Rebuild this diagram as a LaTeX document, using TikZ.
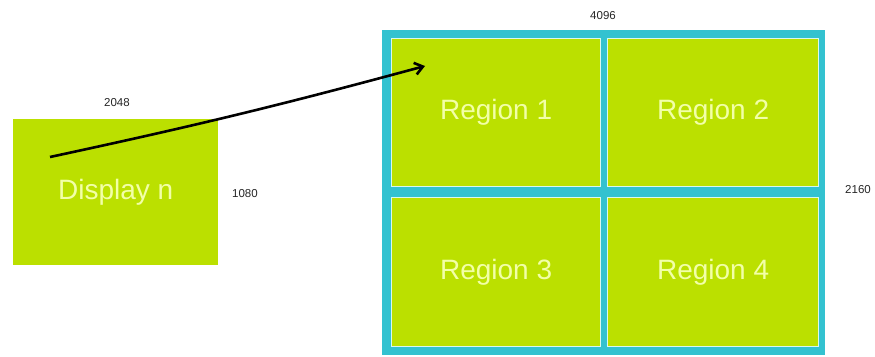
\documentclass[tikz,border=0pt]{standalone}
\usepackage{fontspec}
\setmainfont{Liberation Sans}
\usetikzlibrary{arrows.meta}
\definecolor{lime}{HTML}{BBE000}
\definecolor{teal}{HTML}{33C2D0}
\definecolor{ltxt}{HTML}{F2FFA8}
\definecolor{edge}{HTML}{D8F8F0}
\begin{document}
\begin{tikzpicture}[x=1pt,y=-1pt,
  panel/.style={fill=lime,draw=none,inner sep=0pt,anchor=north west},
  region/.style={fill=lime,draw=edge,line width=1.2pt,inner sep=0pt,anchor=north west,
     text=ltxt,font=\fontsize{28}{30}\selectfont},
  dim/.style={font=\fontsize{11.5}{13}\selectfont,text=black!85},
  link/.style={line width=2.6pt,-{Straight Barb[length=8pt,width=12pt]}}]
\useasboundingbox (0,0) rectangle (875,356);
% display
\node[panel,minimum width=205pt,minimum height=146pt,text=ltxt,font=\fontsize{28}{30}\selectfont] (disp) at (13,119) {Display n};
\node[dim] (w1) at (117,103) {2048};
\node[dim] (h1) at (245,194) {1080};
% big frame
\node[fill=teal,inner sep=0pt,anchor=north west,minimum width=443pt,minimum height=325pt] (frame) at (382,30) {};
\node[region,minimum width=209pt,minimum height=148pt] (r1) at (391,38) {Region 1};
\node[region,minimum width=211pt,minimum height=148pt] (r2) at (607,38) {Region 2};
\node[region,minimum width=209pt,minimum height=149pt] (r3) at (391,197) {Region 3};
\node[region,minimum width=211pt,minimum height=149pt] (r4) at (607,197) {Region 4};
\node[dim] (w2) at (603,16) {4096};
\node[dim] (h2) at (858,190) {2160};
% arrow
\coordinate (s) at (50,157);
\coordinate (t) at (425,66);
\draw[link] (s) to[bend right=1.5] (t);
\end{tikzpicture}
\end{document}
